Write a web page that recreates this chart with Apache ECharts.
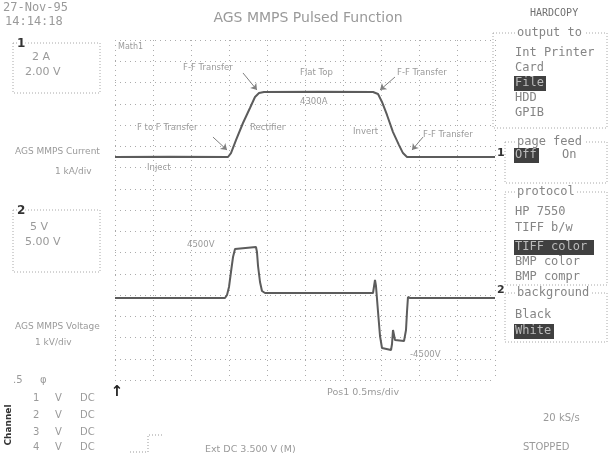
<!DOCTYPE html>
<html>
<head>
<meta charset="utf-8">
<script src="https://cdn.jsdelivr.net/npm/echarts/dist/echarts.min.js"></script>
<style>
html, body { margin: 0; padding: 0; background: #fff; }
#scope { width: 609px; height: 458px; }
</style>
</head>
<body>
<div id="scope"></div>
<script>
// Channel 1 – magnet current, time in ms, current in kA
const currentT  = [0, 0.724, 1.487, 1.526, 1.592, 1.684, 1.776, 1.842, 1.895, 1.961, 2.697, 3.395, 3.461, 3.513, 3.579, 3.658, 3.737, 3.789, 3.842, 5.0];
const currentKA = [0, 0.02, 0, 0.26, 1.12, 2.25, 3.24, 3.97, 4.23, 4.30, 4.32, 4.30, 4.17, 3.64, 2.78, 1.65, 0.79, 0.26, 0, 0];

// Channel 2 – magnet voltage, time in ms, voltage in kV
const voltageT  = [0, 1.447, 1.474, 1.5, 1.526, 1.553, 1.579, 1.605, 1.855, 1.868, 1.882, 1.908, 1.934, 1.974, 3.395, 3.421, 3.434, 3.461, 3.487, 3.513, 3.632, 3.645, 3.658, 3.684, 3.803, 3.829, 3.842, 3.855, 3.882, 5.0];
const voltageKV = [-0.09, -0.09, 0.18, 0.9, 2.25, 3.6, 4.32, 4.5, 4.5, 4.05, 2.79, 1.35, 0.54, 0.36, 0.36, 1.53, 0.99, -1.35, -3.51, -4.59, -4.77, -4.23, -2.97, -3.87, -3.96, -2.97, -1.35, 0, -0.09, -0.09];

// Annotation arrows on the current trace: [t0, i0, t1, i1]
const arrowSegs = [
  [1.684, 5.56, 1.868, 4.43],
  [1.289, 1.32, 1.474, 0.46],
  [3.684, 5.29, 3.487, 4.43],
  [4.053, 1.32, 3.908, 0.46]
];

// Hardcopy menu
const outputTo   = ['Int Printer', 'Card', 'File', 'HDD', 'GPIB'];
const protocols  = ['HP 7550', 'TIFF b/w', 'TIFF color', 'BMP color', 'BMP compr'];
const backgrounds = ['Black', 'White'];
const channelRows = [['1', 'V', 'DC'], ['2', 'V', 'DC'], ['3', 'V', 'DC'], ['4', 'V', 'DC']];

const SANS = 'DejaVu Sans';
const MONO = 'DejaVu Sans Mono';
const TXT = '#9a9a9a';
const MENU = '#858585';

function txt(text, x, y, size, opts) {
  opts = opts || {};
  return {
    type: 'text', x: x, y: y, rotation: opts.rotation || 0, z: 10,
    style: {
      text: text,
      font: (opts.bold ? 'bold ' : '') + size + 'px "' + (opts.family || SANS) + '"',
      fill: opts.fill || TXT,
      align: opts.align || 'left',
      verticalAlign: 'middle',
      backgroundColor: opts.bg || null,
      padding: opts.pad || 0
    }
  };
}
function box(x, y, w, h) {
  return { type: 'rect', z: 5, shape: { x: x, y: y, width: w, height: h },
    style: { fill: 'none', stroke: '#a8a8a8', lineWidth: 1, lineDash: [1, 2] } };
}
function hilite(x, y, w, h) {
  return { type: 'rect', z: 8, shape: { x: x, y: y, width: w, height: h },
    style: { fill: '#404040' } };
}

const g = [];
// header
g.push(txt('27-Nov-95', 3, 8, 12, { family: MONO }));
g.push(txt('14:14:18', 5, 22, 12, { family: MONO }));
g.push(txt('AGS MMPS Pulsed Function', 308, 18, 14, { align: 'center' }));
g.push(txt('HARDCOPY', 530, 13, 10, { family: MONO, fill: '#707070' }));

// left channel panel
g.push(box(13, 43, 87, 50));
g.push(txt('1', 17, 44, 12, { bold: true, fill: '#333', bg: '#fff' }));
g.push(txt('2 A', 32, 57, 11));
g.push(txt('2.00 V', 25, 72, 11));
g.push(txt('AGS MMPS Current', 15, 152, 9));
g.push(txt('1 kA/div', 55, 172, 9));
g.push(box(13, 210, 87, 62));
g.push(txt('2', 17, 211, 12, { bold: true, fill: '#333', bg: '#fff' }));
g.push(txt('5 V', 30, 227, 11));
g.push(txt('5.00 V', 25, 242, 11));
g.push(txt('AGS MMPS Voltage', 15, 327, 9));
g.push(txt('1 kV/div', 35, 343, 9));
g.push(txt('.5', 13, 380, 10));
g.push(txt('φ', 40, 380, 10));
const rowY = [398, 415, 432, 447];
channelRows.forEach(function (r, i) {
  g.push(txt(r[0], 33, rowY[i], 10));
  g.push(txt(r[1], 55, rowY[i], 10));
  g.push(txt(r[2], 80, rowY[i], 10));
});
g.push(txt('Channel', 9, 425, 9, { bold: true, fill: '#333', rotation: Math.PI / 2, align: 'center' }));

// labels inside the graticule
g.push(txt('Math1', 118, 47, 8));
g.push(txt('F-F Transfer', 183, 68, 8.5));
g.push(txt('Flat Top', 300, 73, 8.5));
g.push(txt('F-F Transfer', 397, 73, 8.5));
g.push(txt('4300A', 300, 102, 8.5));
g.push(txt('F to F Transfer', 137, 128, 8.5));
g.push(txt('Rectifier', 250, 128, 8.5));
g.push(txt('Invert', 353, 132, 8.5));
g.push(txt('F-F Transfer', 423, 135, 8.5));
g.push(txt('Inject', 147, 168, 8.5));
g.push(txt('4500V', 187, 245, 8.5));
g.push(txt('-4500V', 410, 355, 8.5));

// channel ground markers at the right edge
g.push(txt('1', 497, 153, 11, { bold: true, fill: '#333' }));
g.push(txt('2', 497, 290, 11, { bold: true, fill: '#333' }));
// trigger position marker
g.push(txt('↑', 117, 392, 15, { bold: true, fill: '#222', align: 'center' }));

// bottom status line
g.push(txt('Pos1 0.5ms/div', 327, 393, 9.5));
g.push({ type: 'polyline', z: 5, shape: { points: [[130, 452], [148, 452], [148, 435], [163, 435]] },
  style: { stroke: '#999', lineWidth: 1, lineDash: [1, 2], fill: 'none' } });
g.push(txt('Ext DC 3.500 V (M)', 205, 450, 9.5));
g.push(txt('20 kS/s', 543, 418, 10));
g.push(txt('STOPPED', 523, 447, 10));

// hardcopy menu: output to
g.push(box(493, 33, 114, 95));
g.push(txt('output to', 515, 33, 12, { family: MONO, fill: MENU, bg: '#fff', pad: [0, 2] }));
const outY = [53, 68, 83, 98, 113];
g.push(hilite(514, 76, 32, 15));
outputTo.forEach(function (s, i) {
  g.push(txt(s, 515, outY[i], 12, { family: MONO, fill: i === 2 ? '#bbb' : MENU }));
});
// page feed
g.push(box(505, 142, 102, 41));
g.push(txt('page feed', 515, 142, 12, { family: MONO, fill: MENU, bg: '#fff', pad: [0, 2] }));
g.push(hilite(514, 148, 25, 15));
g.push(txt('Off', 515, 155, 12, { family: MONO, fill: '#bbb' }));
g.push(txt('On', 562, 155, 12, { family: MONO, fill: MENU }));
// protocol
g.push(box(505, 192, 102, 93));
g.push(txt('protocol', 515, 192, 12, { family: MONO, fill: MENU, bg: '#fff', pad: [0, 2] }));
const protY = [212, 228, 247, 262, 277];
g.push(hilite(514, 240, 80, 15));
protocols.forEach(function (s, i) {
  g.push(txt(s, 515, protY[i], 12, { family: MONO, fill: i === 2 ? '#bbb' : MENU }));
});
// background
g.push(box(505, 293, 102, 49));
g.push(txt('background', 515, 293, 12, { family: MONO, fill: MENU, bg: '#fff', pad: [0, 2] }));
g.push(hilite(514, 324, 40, 15));
backgrounds.forEach(function (s, i) {
  g.push(txt(s, 515, [315, 331][i], 12, { family: MONO, fill: i === 1 ? '#bbb' : MENU }));
});

const dotted = { color: '#ababab', width: 1, type: [1, 4] };

const option = {
  animation: false,
  backgroundColor: '#fff',
  grid: { left: 115, top: 40, width: 380, height: 340, containLabel: false },
  xAxis: {
    type: 'value', min: 0, max: 5, interval: 0.5,
    axisLine: { show: false }, axisTick: { show: false }, axisLabel: { show: false },
    splitLine: { show: true, lineStyle: dotted }
  },
  yAxis: [
    { type: 'value', min: 0, max: 16, interval: 1,
      axisLine: { show: false }, axisTick: { show: false }, axisLabel: { show: false },
      splitLine: { show: true, lineStyle: dotted } },
    { type: 'value', min: -14.75, max: 7.74, show: false, splitLine: { show: false } },
    { type: 'value', min: -7.47, max: 23.13, show: false, splitLine: { show: false } }
  ],
  series: [
    {
      name: 'Current', type: 'line', yAxisIndex: 1, symbol: 'none',
      lineStyle: { color: '#5c5c5c', width: 2 },
      data: currentT.map(function (t, i) { return [t, currentKA[i]]; }),
      markLine: {
        silent: true, symbol: ['none', 'arrow'], symbolSize: 6,
        lineStyle: { color: '#808080', width: 1, type: 'solid' },
        label: { show: false },
        data: arrowSegs.map(function (a) { return [{ coord: [a[0], a[1]] }, { coord: [a[2], a[3]] }]; })
      }
    },
    {
      name: 'Voltage', type: 'line', yAxisIndex: 2, symbol: 'none',
      lineStyle: { color: '#5c5c5c', width: 2 },
      data: voltageT.map(function (t, i) { return [t, voltageKV[i]]; })
    }
  ],
  graphic: g
};

const chart = echarts.init(document.getElementById('scope'), null, { renderer: 'canvas' });
chart.setOption(option);
</script>
</body>
</html>
